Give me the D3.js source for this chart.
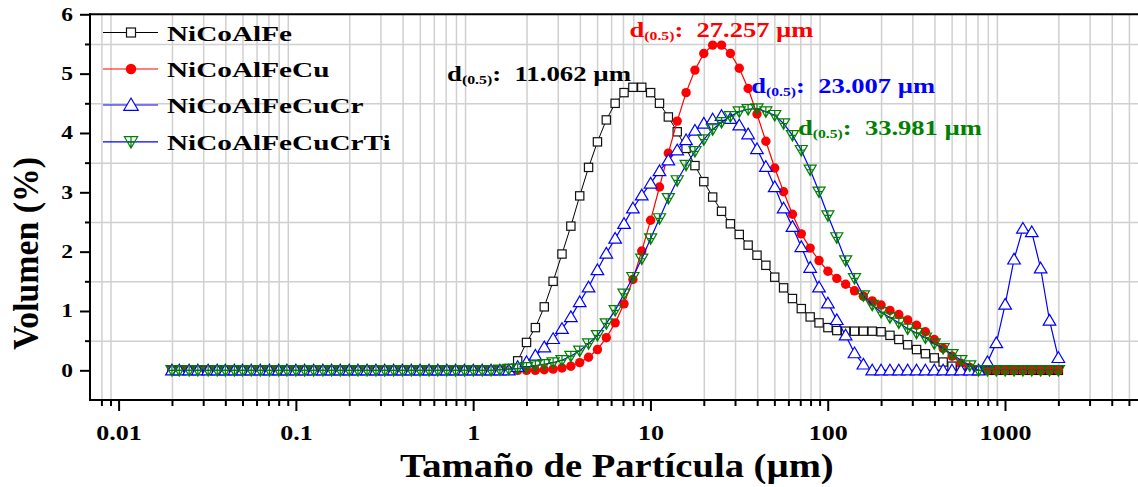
<!DOCTYPE html>
<html><head><meta charset="utf-8">
<script src="https://cdn.jsdelivr.net/npm/d3@7"></script>
<style>body{margin:0;background:#fff}svg{display:block}</style>
</head><body><svg id="c" width="1138" height="487"></svg>
<script>
// ---------------- DATA ----------------
const sizes = [
0.020,0.022,0.025,0.028,0.032,0.036,0.040,0.045,0.050,0.056,
0.063,0.071,0.080,0.089,0.100,0.112,0.126,0.142,0.159,0.178,
0.200,0.224,0.252,0.283,0.317,0.356,0.399,0.448,0.502,0.564,
0.632,0.710,0.796,0.893,1.002,1.125,1.262,1.416,1.589,1.783,
2.000,2.244,2.518,2.825,3.170,3.557,3.991,4.477,5.024,5.637,
6.325,7.096,7.962,8.934,10.024,11.247,12.619,14.159,15.887,17.825,
20.000,22.440,25.179,28.251,31.698,35.566,39.905,44.774,50.238,56.368,
63.246,70.963,79.621,89.337,100.237,112.468,126.191,141.589,158.866,178.250,
200.000,224.404,251.785,282.508,316.979,355.656,399.052,447.744,502.377,563.677,
632.456,709.627,796.214,893.367,1002.374,1124.683,1261.915,1415.892,1588.656,1782.502,
2000.000];

const seriesNames = ["NiCoAlFe","NiCoAlFeCu","NiCoAlFeCuCr","NiCoAlFeCuCrTi"];

const volNiCoAlFe = [
0,0,0,0,0,0,0,0,0,0, 0,0,0,0,0,0,0,0,0,0, 0,0,0,0,0,0,0,0,0,0, 0,0,0,0,0,0,0,0,
0.03,0.16,0.47,0.72,1.07,1.50,1.96,2.43,2.94,3.42,3.85,4.22,4.50,4.68,4.77,4.77,
4.68,4.50,4.27,4.02,3.74,3.45,3.18,2.92,2.68,2.47,2.29,2.11,1.94,1.77,1.57,1.39,
1.21,1.04,0.90,0.80,0.72,0.67,0.66,0.66,0.66,0.66,0.65,0.59,0.52,0.43,0.35,0.28,
0.21,0.14,0.07,0.01,
0,0,0,0,0,0,0,0,0,0,0];

const volNiCoAlFeCu = [
0,0,0,0,0,0,0,0,0,0, 0,0,0,0,0,0,0,0,0,0, 0,0,0,0,0,0,0,0,0,0, 0,0,0,0,0,0,0,0,0,0, 0,0,
0.01,0.02,0.04,0.07,0.13,0.22,0.35,0.55,0.80,1.12,1.53,2.01,2.53,3.09,3.66,4.20,
4.68,5.06,5.34,5.48,5.48,5.34,5.09,4.75,4.32,3.86,3.41,3.01,2.63,2.30,2.06,1.85,
1.67,1.55,1.45,1.34,1.25,1.17,1.10,1.01,0.94,0.85,0.76,0.65,0.52,0.37,0.24,0.12,
0.05,
0,0,0,0,0,0,0,0,0,0];

const volNiCoAlFeCuCr = [
0,0,0,0,0,0,0,0,0,0, 0,0,0,0,0,0,0,0,0,0, 0,0,0,0,0,0,0,0,0,0, 0,0,0,0,0,0,0,0,0,
0.06,0.14,0.25,0.39,0.53,0.70,0.90,1.15,1.40,1.69,1.97,2.22,2.47,2.73,2.95,3.15,
3.36,3.54,3.71,3.88,4.04,4.16,4.23,4.29,4.24,4.13,3.98,3.73,3.43,3.09,2.73,2.42,
2.08,1.73,1.40,1.13,0.85,0.59,0.29,0.10,
0,0,0,0,0,0,0,0,0,0,0,0,0,
0.14,0.46,1.11,1.87,2.39,2.33,1.72,0.84,0.21];

const volNiCoAlFeCuCrTi = [
0,0,0,0,0,0,0,0,0,0, 0,0,0,0,0,0,0,0,0,0, 0,0,0,0,0,0,0,0,0,0, 0,0,0,0,0,0,0,
0.01,0.02,0.03,0.05,0.08,0.10,0.13,0.17,0.24,0.33,0.45,0.59,0.79,1.01,1.29,1.57,
1.88,2.22,2.56,2.90,3.20,3.46,3.69,3.89,4.06,4.18,4.28,4.36,4.40,4.41,4.36,4.30,
4.16,3.96,3.71,3.38,3.01,2.61,2.24,1.85,1.55,1.26,1.10,0.98,0.89,0.80,0.70,0.63,
0.55,0.45,0.37,0.27,0.17,0.08,
0,0,0,0,0,0,0,0,0,0];

const xTickValues = [0.01,0.1,1,10,100,1000];
const xTickLabels = ["0.01","0.1","1","10","100","1000"];
const yTickValues = [0,1,2,3,4,5,6];
const yTickLabels = ["0","1","2","3","4","5","6"];
const d50Values = ["11.062 µm","27.257 µm","23.007 µm","33.981 µm"];
const xTitle = "Tamaño de Partícula (µm)";
const yTitle = "Volumen (%)";

// ---------------- LAYOUT ----------------
const FONT = "'Liberation Serif','Times New Roman',serif";
const X0 = 90, X1 = 1138, Y0 = 400, Y1 = 14.3;
const svg = d3.select("#c");
const x = d3.scaleLog().domain([0.01,1000]).range([118.6,1005]);
const y = d3.scaleLinear().domain([-0.5,6]).range([Y0,Y1]);

const seriesVals = [volNiCoAlFe, volNiCoAlFeCu, volNiCoAlFeCuCr, volNiCoAlFeCuCrTi];
const lineColors = ["#000000","#ff0000","#0000ff","#0000ff"];
const textColors = ["#000000","#ff0000","#0000ff","#008000"];

// minor tick values
const minorX = [];
for (let e=-3;e<=3;e++) for (let m=2;m<=9;m++){ const v=m*Math.pow(10,e); const p=x(v); if(p>93 && p<X1+2) minorX.push(v); }
const minorY = [0.5,1.5,2.5,3.5,4.5,5.5];

// gridlines
svg.append("g").attr("transform",`translate(0,${Y0})`)
  .call(d3.axisBottom(x).tickValues(minorX).tickSize(-(Y0-Y1)).tickFormat(""))
  .call(g=>g.select(".domain").remove())
  .call(g=>g.selectAll("line").attr("stroke","#d0d0d0").attr("stroke-width",1.5));
svg.append("g").attr("transform",`translate(${X0},0)`)
  .call(d3.axisLeft(y).tickValues(minorY).tickSize(-(X1-X0)).tickFormat(""))
  .call(g=>g.select(".domain").remove())
  .call(g=>g.selectAll("line").attr("stroke","#d0d0d0").attr("stroke-width",1.5));

// marker drawing
function drawMarker(g, k, cx, cy, s){
  if(k===0){
    g.append("rect").attr("x",cx-s*0.45).attr("y",cy-s*0.45).attr("width",s*0.9).attr("height",s*0.9)
     .attr("fill","#fff").attr("stroke","#111").attr("stroke-width",1.2);
  } else if(k===1){
    g.append("circle").attr("cx",cx).attr("cy",cy).attr("r",s*0.5).attr("fill","#ff0000");
  } else if(k===2){
    const w=s*0.6, h=s*0.55;
    g.append("path").attr("d",`M${cx},${cy-h*1.05}L${cx+w},${cy+h*0.8}L${cx-w},${cy+h*0.8}Z`)
     .attr("fill","#fff").attr("stroke","#0000ff").attr("stroke-width",1.2);
  } else {
    const w=s*0.55, h=s*0.5;
    g.append("path").attr("d",`M${cx-w},${cy-h*0.85}L${cx+w},${cy-h*0.85}L${cx},${cy+h*1.05}Z M${cx},${cy-h*0.85}L${cx},${cy+h*1.05} M${cx-w*0.55},${cy}L${cx+w*0.55},${cy}`)
     .attr("fill","none").attr("stroke","#008000").attr("stroke-width",1.2);
  }
}

// series
const line = d3.line().x((d,i)=>x(sizes[i])).y(d=>y(d));
seriesVals.forEach((vals,k)=>{
  const g = svg.append("g");
  g.append("path").datum(vals).attr("d",line).attr("fill","none")
   .attr("stroke",lineColors[k]).attr("stroke-width",k===0?1:1.2);
  vals.forEach((v,i)=>drawMarker(g,k,x(sizes[i]),y(v),[9.2,9.4,10.5,11][k]));
});

// axes ticks
const tickStyle = g=>{ g.select(".domain").remove(); g.selectAll("line").attr("stroke","#000").attr("stroke-width",2); };
svg.append("g").attr("transform",`translate(0,${Y0})`)
  .call(d3.axisBottom(x).tickValues(minorX).tickSize(6).tickFormat("")).call(tickStyle);
const xa = svg.append("g").attr("transform",`translate(0,${Y0})`)
  .call(d3.axisBottom(x).tickValues(xTickValues).tickSize(11).tickFormat((d,i)=>xTickLabels[i])).call(tickStyle);
xa.selectAll("text").attr("font-family",FONT).attr("font-weight","bold").attr("font-size",20)
  .attr("fill","#000").attr("y",25.5).attr("transform","scale(1.3,1)");
svg.append("g").attr("transform",`translate(${X0},0)`)
  .call(d3.axisLeft(y).tickValues(minorY).tickSize(5).tickFormat("")).call(tickStyle);
const ya = svg.append("g").attr("transform",`translate(${X0},0)`)
  .call(d3.axisLeft(y).tickValues(yTickValues).tickSize(10).tickFormat((d,i)=>yTickLabels[i])).call(tickStyle);
ya.selectAll("text").attr("font-family",FONT).attr("font-weight","bold").attr("font-size",18.5)
  .attr("fill","#000").attr("x",-17/1.27).attr("transform","scale(1.27,1)");

// axis lines
svg.append("line").attr("x1",X0).attr("x2",X0).attr("y1",Y1-1).attr("y2",Y0+1).attr("stroke","#000").attr("stroke-width",2);
svg.append("line").attr("x1",X0-1).attr("x2",X1).attr("y1",Y0).attr("y2",Y0).attr("stroke","#000").attr("stroke-width",2);
svg.append("line").attr("x1",X0-1).attr("x2",X1).attr("y1",Y1).attr("y2",Y1).attr("stroke","#000").attr("stroke-width",2);

// fit helper
function fitX(t, target){ const w=t.node().getBBox().width; return target/w; }

// axis titles
const xt = svg.append("text").text(xTitle).attr("font-family",FONT).attr("font-weight","bold")
  .attr("font-size",33).attr("fill","#000");
const kx = fitX(xt, 434);
xt.attr("transform",`translate(400,477) scale(${kx},1)`);

const yt = svg.append("text").text(yTitle).attr("font-family",FONT).attr("font-weight","bold")
  .attr("font-size",32).attr("fill","#000").attr("text-anchor","middle");
const ky = fitX(yt, 193);
yt.attr("transform",`translate(38,253.5) rotate(-90) scale(${ky},1.12)`);

// legend
const legY = [32.5, 69, 105, 141.8];
seriesNames.forEach((nm,k)=>{
  const g = svg.append("g");
  g.append("line").attr("x1",103).attr("x2",158).attr("y1",legY[k]).attr("y2",legY[k])
   .attr("stroke",lineColors[k]).attr("stroke-width",k===0?1:1.2);
  drawMarker(g,k,131,legY[k],[10,10.5,12,12][k]);
  g.append("text").text(nm).attr("font-family",FONT).attr("font-weight","bold").attr("font-size",22)
   .attr("fill","#000").attr("transform",`translate(167,${legY[k]+8}) scale(1.33,1)`);
});

// d(0.5) annotations
const annPos = [[447,81],[629.6,36.7],[751.3,93.3],[798,135]];
d50Values.forEach((val,k)=>{
  const t = svg.append("text").attr("font-family",FONT).attr("font-weight","bold").attr("font-size",22)
    .attr("fill",textColors[k]).style("white-space","pre");
  t.append("tspan").text("d");
  t.append("tspan").text("(0.5)").attr("font-size",13).attr("dy",3);
  t.append("tspan").text(":  "+val).attr("dy",-3);
  const kk = fitX(t, 184);
  t.attr("transform",`translate(${annPos[k][0]},${annPos[k][1]}) scale(${kk},1)`);
});
</script></body></html>
